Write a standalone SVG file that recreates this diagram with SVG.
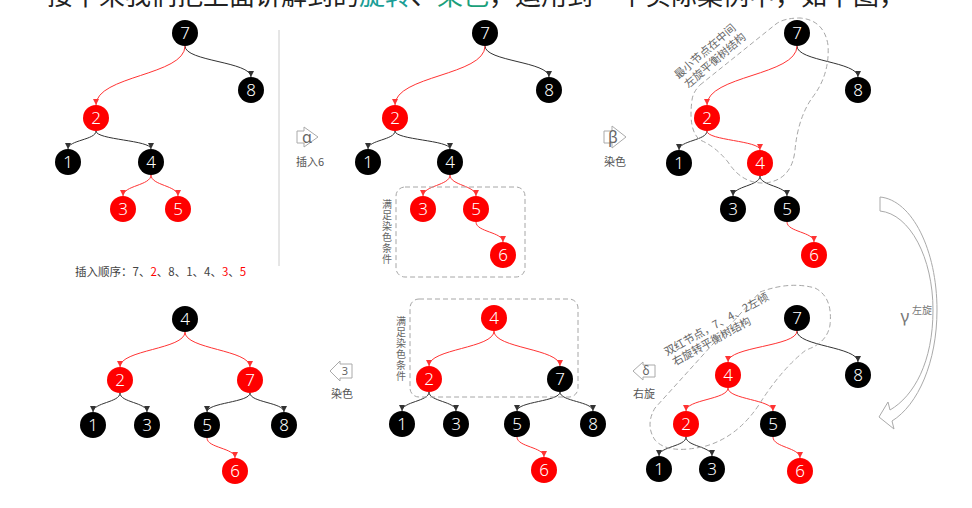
<svg xmlns="http://www.w3.org/2000/svg" width="972" height="508" viewBox="0 0 972 508">
<style>
text{font-family:"Noto Sans","Noto Sans CJK SC","Liberation Sans",sans-serif}
.cjk{font-family:"Noto Sans CJK SC","Noto Sans",sans-serif}
.nb{fill:#000}
.nr{fill:#f00}
.lbl{fill:#fff;font-size:17px;text-anchor:middle;font-weight:300}
.eb{fill:none;stroke:#333;stroke-width:1;marker-end:url(#mb)}
.er{fill:none;stroke:#f33;stroke-width:1;marker-end:url(#mr)}
.dash{fill:none;stroke:#a6a6a6;stroke-width:1;stroke-dasharray:5 3}
.hollow{fill:#fff;stroke:#aaa;stroke-width:1}
.note{fill:#666;font-size:11px}
.vnote{fill:#666;font-size:10px;writing-mode:vertical-rl;letter-spacing:1px}
.small{fill:#555;font-size:11px}
</style>
<defs>
<marker id="mb" viewBox="0 0 10 10" refX="10" refY="5" markerWidth="6" markerHeight="6" orient="auto"><path d="M0,0 L10,5 L0,10 z" fill="#333"/></marker>
<marker id="mr" viewBox="0 0 10 10" refX="10" refY="5" markerWidth="6" markerHeight="6" orient="auto"><path d="M0,0 L10,5 L0,10 z" fill="#f33"/></marker>
</defs>
<rect width="972" height="508" fill="#fff"/>
<text class="cjk" x="47" y="5" font-size="26" fill="#222">接下来我们把上面讲解到的<tspan fill="#1a9e96">旋转</tspan>、<tspan fill="#1aa07a">染色</tspan>，运用到一个实际案例中，如下图，</text>

<line x1="279" y1="30" x2="279" y2="266" stroke="#ccc" stroke-width="1"/>

<g id="connectors">
<!-- tree 1 -->
<path class="eb" d="M185,46 C185,61.5 251,61.5 251,77"/>
<path class="er" d="M185,46 C185,75.5 96,75.5 96,105"/>
<path class="eb" d="M96,131 C96,140 68,140 68,149"/>
<path class="eb" d="M96,131 C96,140 151,140 151,149"/>
<path class="er" d="M151,175 C151,185.5 123,185.5 123,196"/>
<path class="er" d="M151,175 C151,185.5 178,185.5 178,196"/>
<!-- tree 2 -->
<path class="eb" d="M485,46 C485,61.5 549,61.5 549,77"/>
<path class="er" d="M485,46 C485,75.5 395,75.5 395,105"/>
<path class="eb" d="M395,131 C395,140 368,140 368,149"/>
<path class="eb" d="M395,131 C395,140 450,140 450,149"/>
<path class="er" d="M450,175 C450,185.5 423,185.5 423,196"/>
<path class="er" d="M450,175 C450,185.5 476,185.5 476,196"/>
<path class="er" d="M476,222 C476,232 503,232 503,242"/>
<!-- tree 3 -->
<path class="eb" d="M797,46 C797,61.5 858,61.5 858,77"/>
<path class="er" d="M797,46 C797,75.5 707,75.5 707,105"/>
<path class="eb" d="M707,131 C707,140.5 679,140.5 679,150"/>
<path class="er" d="M707,131 C707,140.5 760,140.5 760,150"/>
<path class="eb" d="M760,176 C760,186 733,186 733,196"/>
<path class="eb" d="M760,176 C760,186 787,186 787,196"/>
<path class="er" d="M787,222 C787,232 814,232 814,242"/>
<!-- tree 4 -->
<path class="eb" d="M797,331 C797,346.5 858,346.5 858,362"/>
<path class="er" d="M797,331 C797,346.5 728,346.5 728,362"/>
<path class="er" d="M728,388 C728,399.5 686,399.5 686,411"/>
<path class="er" d="M728,388 C728,399.5 773,399.5 773,411"/>
<path class="eb" d="M686,437 C686,446.5 659,446.5 659,456"/>
<path class="eb" d="M686,437 C686,446.5 712,446.5 712,456"/>
<path class="er" d="M773,437 C773,447.5 800,447.5 800,458"/>
<!-- tree 5 -->
<path class="er" d="M494,331 C494,348.5 429,348.5 429,366"/>
<path class="er" d="M494,331 C494,348.5 560,348.5 560,366"/>
<path class="eb" d="M429,392 C429,401.5 402,401.5 402,411"/>
<path class="eb" d="M429,392 C429,401.5 456,401.5 456,411"/>
<path class="eb" d="M560,392 C560,401.5 517,401.5 517,411"/>
<path class="eb" d="M560,392 C560,401.5 593,401.5 593,411"/>
<path class="er" d="M517,437 C517,447 544,447 544,457"/>
<!-- tree 6 -->
<path class="er" d="M185,332 C185,349.5 120,349.5 120,367"/>
<path class="er" d="M185,332 C185,349.5 250,349.5 250,367"/>
<path class="eb" d="M120,393 C120,402.5 93,402.5 93,412"/>
<path class="eb" d="M120,393 C120,402.5 147,402.5 147,412"/>
<path class="eb" d="M250,393 C250,402.5 207,402.5 207,412"/>
<path class="eb" d="M250,393 C250,402.5 284,402.5 284,412"/>
<path class="er" d="M207,438 C207,448 235,448 235,458"/>
</g>

<!-- tree 1 nodes -->
<g id="t1-7"><circle class="nb" cx="185" cy="33" r="13"/><text class="lbl" x="185" y="39">7</text></g>
<g id="t1-8"><circle class="nb" cx="251" cy="90" r="13"/><text class="lbl" x="251" y="96">8</text></g>
<g id="t1-2"><circle class="nr" cx="96" cy="118" r="13"/><text class="lbl" x="96" y="124">2</text></g>
<g id="t1-1"><circle class="nb" cx="68" cy="162" r="13"/><text class="lbl" x="68" y="168">1</text></g>
<g id="t1-4"><circle class="nb" cx="151" cy="162" r="13"/><text class="lbl" x="151" y="168">4</text></g>
<g id="t1-3"><circle class="nr" cx="123" cy="209" r="13"/><text class="lbl" x="123" y="215">3</text></g>
<g id="t1-5"><circle class="nr" cx="178" cy="209" r="13"/><text class="lbl" x="178" y="215">5</text></g>
<text class="cjk" x="75" y="276" font-size="11.5" fill="#444">插入顺序：7、<tspan fill="#f00">2</tspan>、8、1、4、<tspan fill="#f00">3</tspan>、<tspan fill="#f00">5</tspan></text>

<!-- alpha -->
<g id="step-alpha">
<path class="hollow" d="M297,131 L304,131 L304,127 L318,137 L304,147 L304,143 L297,143 Z"/>
<text x="307" y="143" font-size="16" fill="#666" text-anchor="middle">α</text>
<text class="small cjk" x="296" y="166">插入6</text>
</g>

<!-- tree 2 -->
<rect class="dash" x="396" y="187" width="129" height="90" rx="9"/>
<text class="vnote cjk" x="387" y="199">满足染色条件</text>
<g id="t2-7"><circle class="nb" cx="485" cy="33" r="13"/><text class="lbl" x="485" y="39">7</text></g>
<g id="t2-8"><circle class="nb" cx="549" cy="90" r="13"/><text class="lbl" x="549" y="96">8</text></g>
<g id="t2-2"><circle class="nr" cx="395" cy="118" r="13"/><text class="lbl" x="395" y="124">2</text></g>
<g id="t2-1"><circle class="nb" cx="368" cy="162" r="13"/><text class="lbl" x="368" y="168">1</text></g>
<g id="t2-4"><circle class="nb" cx="450" cy="162" r="13"/><text class="lbl" x="450" y="168">4</text></g>
<g id="t2-3"><circle class="nr" cx="423" cy="209" r="13"/><text class="lbl" x="423" y="215">3</text></g>
<g id="t2-5"><circle class="nr" cx="476" cy="209" r="13"/><text class="lbl" x="476" y="215">5</text></g>
<g id="t2-6"><circle class="nr" cx="503" cy="255" r="13"/><text class="lbl" x="503" y="261">6</text></g>

<!-- beta -->
<g id="step-beta">
<path class="hollow" d="M604,131 L612,131 L612,126 L626,137 L612,148 L612,143 L604,143 Z"/>
<text x="613" y="143" font-size="16" fill="#666" text-anchor="middle">β</text>
<text class="small cjk" x="604" y="166">染色</text>
</g>

<!-- tree 3 -->
<path class="dash" d="M700,85 L776,24 Q784,18 800,18 Q824,20 828,45 Q830,75 812,98 Q798,118 795,150 Q792,180 765,183 Q742,184 728,162 Q715,146 700,140 Q688,130 692,100 Q693,92 700,85 Z"/>
<text class="note cjk" transform="translate(678.5,79.5) rotate(-41)">最小节点在中间</text>
<text class="note cjk" transform="translate(688.5,88.5) rotate(-41)">左旋平衡树结构</text>
<g id="t3-7"><circle class="nb" cx="797" cy="33" r="13"/><text class="lbl" x="797" y="39">7</text></g>
<g id="t3-8"><circle class="nb" cx="858" cy="90" r="13"/><text class="lbl" x="858" y="96">8</text></g>
<g id="t3-2"><circle class="nr" cx="707" cy="118" r="13"/><text class="lbl" x="707" y="124">2</text></g>
<g id="t3-1"><circle class="nb" cx="679" cy="163" r="13"/><text class="lbl" x="679" y="169">1</text></g>
<g id="t3-4"><circle class="nr" cx="760" cy="163" r="13"/><text class="lbl" x="760" y="169">4</text></g>
<g id="t3-3"><circle class="nb" cx="733" cy="209" r="13"/><text class="lbl" x="733" y="215">3</text></g>
<g id="t3-5"><circle class="nb" cx="787" cy="209" r="13"/><text class="lbl" x="787" y="215">5</text></g>
<g id="t3-6"><circle class="nr" cx="814" cy="255" r="13"/><text class="lbl" x="814" y="261">6</text></g>

<!-- gamma -->
<g id="step-gamma">
<path class="hollow" d="M880,197 C912,200 937,250 937,310 C937,362 918,405 892,421 L894,429 L879,417 L888,402 L890,410 C914,396 933,362 933,310 C933,258 910,214 880,211 Z"/>
<text x="905" y="322" font-size="17" fill="#777" text-anchor="middle">γ</text>
<text class="cjk" x="912" y="314" font-size="10" fill="#777">左旋</text>
</g>

<!-- tree 4 -->
<path class="dash" d="M760,292 Q790,281 815,288 Q833,297 830,325 Q827,343 806,350 Q783,368 762,400 Q740,436 706,446 Q668,455 655,440 Q645,425 655,408 Z"/>
<text class="note cjk" transform="translate(667,356) rotate(-29)">双红节点，7、4、2左倾</text>
<text class="note cjk" transform="translate(675,366) rotate(-29)">右旋转平衡树结构</text>
<g id="t4-7"><circle class="nb" cx="797" cy="318" r="13"/><text class="lbl" x="797" y="324">7</text></g>
<g id="t4-8"><circle class="nb" cx="858" cy="375" r="13"/><text class="lbl" x="858" y="381">8</text></g>
<g id="t4-4"><circle class="nr" cx="728" cy="375" r="13"/><text class="lbl" x="728" y="381">4</text></g>
<g id="t4-2"><circle class="nr" cx="686" cy="424" r="13"/><text class="lbl" x="686" y="430">2</text></g>
<g id="t4-5"><circle class="nb" cx="773" cy="424" r="13"/><text class="lbl" x="773" y="430">5</text></g>
<g id="t4-1"><circle class="nb" cx="659" cy="469" r="13"/><text class="lbl" x="659" y="475">1</text></g>
<g id="t4-3"><circle class="nb" cx="712" cy="469" r="13"/><text class="lbl" x="712" y="475">3</text></g>
<g id="t4-6"><circle class="nr" cx="800" cy="471" r="13"/><text class="lbl" x="800" y="477">6</text></g>

<!-- delta -->
<g id="step-delta">
<path class="hollow" d="M633,371 L643,362 L643,365 L655,365 L655,377 L643,377 L643,380 Z"/>
<text x="646" y="375" font-size="12" fill="#666" text-anchor="middle">δ</text>
<text class="small cjk" x="633" y="398">右旋</text>
</g>

<!-- tree 5 -->
<rect class="dash" x="410" y="299" width="168" height="98" rx="9"/>
<text class="vnote cjk" x="401" y="316">满足染色条件</text>
<g id="t5-4"><circle class="nr" cx="494" cy="318" r="13"/><text class="lbl" x="494" y="324">4</text></g>
<g id="t5-2"><circle class="nr" cx="429" cy="379" r="13"/><text class="lbl" x="429" y="385">2</text></g>
<g id="t5-7"><circle class="nb" cx="560" cy="379" r="13"/><text class="lbl" x="560" y="385">7</text></g>
<g id="t5-1"><circle class="nb" cx="402" cy="424" r="13"/><text class="lbl" x="402" y="430">1</text></g>
<g id="t5-3"><circle class="nb" cx="456" cy="424" r="13"/><text class="lbl" x="456" y="430">3</text></g>
<g id="t5-5"><circle class="nb" cx="517" cy="424" r="13"/><text class="lbl" x="517" y="430">5</text></g>
<g id="t5-8"><circle class="nb" cx="593" cy="424" r="13"/><text class="lbl" x="593" y="430">8</text></g>
<g id="t5-6"><circle class="nr" cx="544" cy="470" r="13"/><text class="lbl" x="544" y="476">6</text></g>

<!-- step 3 -->
<g id="step-3">
<path class="hollow" d="M330,371 L340,361 L340,364 L352,364 L352,378 L340,378 L340,381 Z"/>
<text x="345" y="375" font-size="11" fill="#666" text-anchor="middle">3</text>
<text class="small cjk" x="331" y="398">染色</text>
</g>

<!-- tree 6 -->
<g id="t6-4"><circle class="nb" cx="185" cy="319" r="13"/><text class="lbl" x="185" y="325">4</text></g>
<g id="t6-2"><circle class="nr" cx="120" cy="380" r="13"/><text class="lbl" x="120" y="386">2</text></g>
<g id="t6-7"><circle class="nr" cx="250" cy="380" r="13"/><text class="lbl" x="250" y="386">7</text></g>
<g id="t6-1"><circle class="nb" cx="93" cy="425" r="13"/><text class="lbl" x="93" y="431">1</text></g>
<g id="t6-3"><circle class="nb" cx="147" cy="425" r="13"/><text class="lbl" x="147" y="431">3</text></g>
<g id="t6-5"><circle class="nb" cx="207" cy="425" r="13"/><text class="lbl" x="207" y="431">5</text></g>
<g id="t6-8"><circle class="nb" cx="284" cy="425" r="13"/><text class="lbl" x="284" y="431">8</text></g>
<g id="t6-6"><circle class="nr" cx="235" cy="471" r="13"/><text class="lbl" x="235" y="477">6</text></g>
</svg>
